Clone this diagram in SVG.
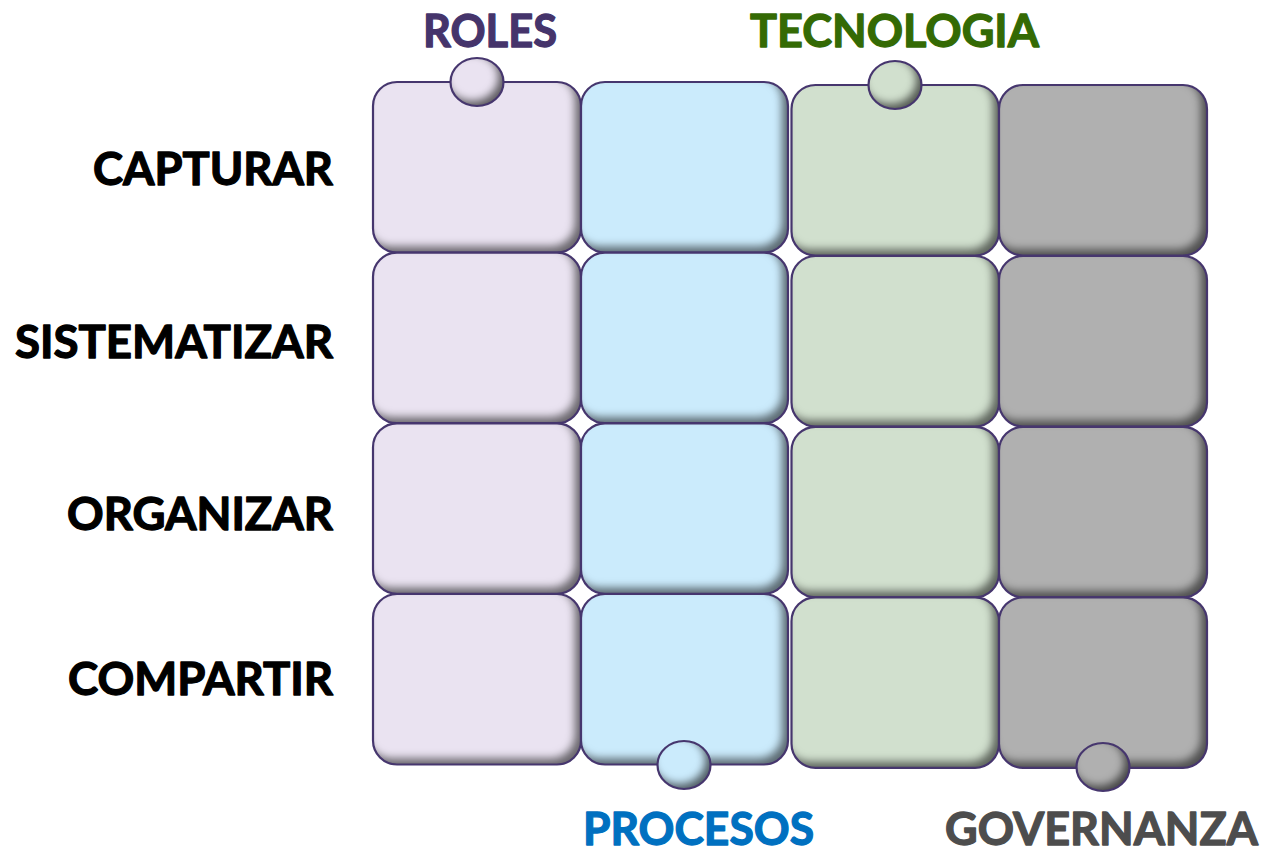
<svg xmlns="http://www.w3.org/2000/svg" width="1270" height="855" viewBox="0 0 1270 855">
  <defs>
    <filter id="ish" x="-15%" y="-15%" width="130%" height="130%" color-interpolation-filters="sRGB">
      <feComponentTransfer in="SourceAlpha" result="inv"><feFuncA type="table" tableValues="1 0"/></feComponentTransfer>
      <feOffset in="inv" dx="-6" dy="-6" result="off"/>
      <feGaussianBlur in="off" stdDeviation="4" result="blur"/>
      <feFlood flood-color="#000" flood-opacity="0.55"/>
      <feComposite in2="blur" operator="in" result="sh"/>
      <feComposite in="sh" in2="SourceAlpha" operator="in" result="shIn"/>
      <feMerge><feMergeNode in="SourceGraphic"/><feMergeNode in="shIn"/></feMerge>
    </filter>
    <filter id="ishk" x="-30%" y="-30%" width="160%" height="160%" color-interpolation-filters="sRGB">
      <feComponentTransfer in="SourceAlpha" result="inv"><feFuncA type="table" tableValues="1 0"/></feComponentTransfer>
      <feOffset in="inv" dx="-5" dy="-5" result="off"/>
      <feGaussianBlur in="off" stdDeviation="4" result="blur"/>
      <feFlood flood-color="#000" flood-opacity="0.6"/>
      <feComposite in2="blur" operator="in" result="sh"/>
      <feComposite in="sh" in2="SourceAlpha" operator="in" result="shIn"/>
      <feMerge><feMergeNode in="SourceGraphic"/><feMergeNode in="shIn"/></feMerge>
    </filter>
  </defs>
  <style>
    .fill { stroke: none; filter: url(#ish); }
    .kfill { stroke: none; filter: url(#ishk); }
    .edge { fill: none; stroke: #46366E; stroke-width: 2.2; }
    .roles { fill: #EAE3F1; }
    .proc { fill: #CBEBFC; }
    .tec { fill: #D1E0CE; }
    .gov { fill: #B0B0B0; }
    .lbl { font-family: Lato, "Open Sans", "Liberation Sans", sans-serif; font-weight: 700; font-size: 46px; stroke-width: 1.3; stroke-linejoin: round; }
    .row { fill: #000000; stroke: #000000; }
  </style>
  <rect width="1270" height="855" fill="#FFFFFF"/>

  <g id="connectors"/>

  <!-- ROLES column -->
  <g id="roles-capturar"><rect class="fill roles" x="373" y="82" width="208" height="170.5" rx="24"/><rect class="edge" x="373" y="82" width="208" height="170.5" rx="24"/></g>
  <g id="roles-sistematizar"><rect class="fill roles" x="373" y="252.7" width="208" height="170.5" rx="24"/><rect class="edge" x="373" y="252.7" width="208" height="170.5" rx="24"/></g>
  <g id="roles-organizar"><rect class="fill roles" x="373" y="423.3" width="208" height="170.5" rx="24"/><rect class="edge" x="373" y="423.3" width="208" height="170.5" rx="24"/></g>
  <g id="roles-compartir"><rect class="fill roles" x="373" y="594" width="208" height="170.5" rx="24"/><rect class="edge" x="373" y="594" width="208" height="170.5" rx="24"/></g>

  <!-- PROCESOS column -->
  <g id="procesos-capturar"><rect class="fill proc" x="581" y="82" width="207" height="170.5" rx="24"/><rect class="edge" x="581" y="82" width="207" height="170.5" rx="24"/></g>
  <g id="procesos-sistematizar"><rect class="fill proc" x="581" y="252.7" width="207" height="170.5" rx="24"/><rect class="edge" x="581" y="252.7" width="207" height="170.5" rx="24"/></g>
  <g id="procesos-organizar"><rect class="fill proc" x="581" y="423.3" width="207" height="170.5" rx="24"/><rect class="edge" x="581" y="423.3" width="207" height="170.5" rx="24"/></g>
  <g id="procesos-compartir"><rect class="fill proc" x="581" y="594" width="207" height="170.5" rx="24"/><rect class="edge" x="581" y="594" width="207" height="170.5" rx="24"/></g>

  <!-- TECNOLOGIA column -->
  <g id="tecnologia-capturar"><rect class="fill tec" x="791.5" y="85" width="207.5" height="170.5" rx="24"/><rect class="edge" x="791.5" y="85" width="207.5" height="170.5" rx="24"/></g>
  <g id="tecnologia-sistematizar"><rect class="fill tec" x="791.5" y="256" width="207.5" height="170.5" rx="24"/><rect class="edge" x="791.5" y="256" width="207.5" height="170.5" rx="24"/></g>
  <g id="tecnologia-organizar"><rect class="fill tec" x="791.5" y="426.8" width="207.5" height="170.5" rx="24"/><rect class="edge" x="791.5" y="426.8" width="207.5" height="170.5" rx="24"/></g>
  <g id="tecnologia-compartir"><rect class="fill tec" x="791.5" y="597.3" width="207.5" height="170.5" rx="24"/><rect class="edge" x="791.5" y="597.3" width="207.5" height="170.5" rx="24"/></g>

  <!-- GOVERNANZA column -->
  <g id="governanza-capturar"><rect class="fill gov" x="999" y="85" width="208" height="170.5" rx="24"/><rect class="edge" x="999" y="85" width="208" height="170.5" rx="24"/></g>
  <g id="governanza-sistematizar"><rect class="fill gov" x="999" y="256" width="208" height="170.5" rx="24"/><rect class="edge" x="999" y="256" width="208" height="170.5" rx="24"/></g>
  <g id="governanza-organizar"><rect class="fill gov" x="999" y="426.8" width="208" height="170.5" rx="24"/><rect class="edge" x="999" y="426.8" width="208" height="170.5" rx="24"/></g>
  <g id="governanza-compartir"><rect class="fill gov" x="999" y="597.3" width="208" height="170.5" rx="24"/><rect class="edge" x="999" y="597.3" width="208" height="170.5" rx="24"/></g>

  <!-- knobs -->
  <g id="knob-roles"><ellipse class="kfill roles" cx="477" cy="82" rx="26.5" ry="24"/><ellipse class="edge" cx="477" cy="82" rx="26.5" ry="24"/></g>
  <g id="knob-tecnologia"><ellipse class="kfill tec" cx="895" cy="85" rx="26.5" ry="24"/><ellipse class="edge" cx="895" cy="85" rx="26.5" ry="24"/></g>
  <g id="knob-procesos"><ellipse class="kfill proc" cx="684" cy="765" rx="26.5" ry="24"/><ellipse class="edge" cx="684" cy="765" rx="26.5" ry="24"/></g>
  <g id="knob-governanza"><ellipse class="kfill gov" cx="1103" cy="767" rx="26.5" ry="24"/><ellipse class="edge" cx="1103" cy="767" rx="26.5" ry="24"/></g>

  <!-- column headers -->
  <g id="label-roles"><text class="lbl" x="423" y="47" fill="#45346B" stroke="#45346B" textLength="134" lengthAdjust="spacingAndGlyphs">ROLES</text></g>
  <g id="label-tecnologia"><text class="lbl" x="750" y="47" fill="#346A04" stroke="#346A04" textLength="289" lengthAdjust="spacingAndGlyphs">TECNOLOGIA</text></g>
  <g id="label-procesos"><text class="lbl" x="583" y="845" fill="#0070C0" stroke="#0070C0" textLength="231" lengthAdjust="spacingAndGlyphs">PROCESOS</text></g>
  <g id="label-governanza"><text class="lbl" x="945" y="845" fill="#4D4D4D" stroke="#4D4D4D" textLength="313" lengthAdjust="spacingAndGlyphs">GOVERNANZA</text></g>

  <!-- row labels -->
  <g id="label-capturar"><text class="lbl row" x="93" y="185" textLength="240" lengthAdjust="spacingAndGlyphs">CAPTURAR</text></g>
  <g id="label-sistematizar"><text class="lbl row" x="15" y="358" textLength="318" lengthAdjust="spacingAndGlyphs">SISTEMATIZAR</text></g>
  <g id="label-organizar"><text class="lbl row" x="67" y="530" textLength="266" lengthAdjust="spacingAndGlyphs">ORGANIZAR</text></g>
  <g id="label-compartir"><text class="lbl row" x="68" y="695" textLength="265" lengthAdjust="spacingAndGlyphs">COMPARTIR</text></g>
</svg>
